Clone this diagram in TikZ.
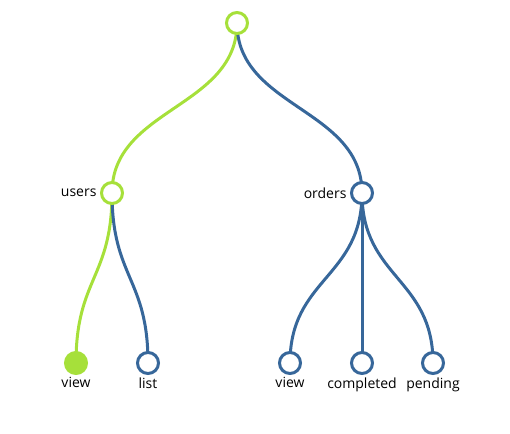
\documentclass[tikz,border=0pt]{standalone}
\usepackage{fontspec}
\setmainfont{Open Sans}
\usetikzlibrary{backgrounds}

\definecolor{leafgreen}{HTML}{A6E03A}
\definecolor{pathblue}{HTML}{37679A}

\begin{document}
\begin{tikzpicture}[
    x=1pt, y=-1pt,
    every label/.style={font=\fontsize{14}{16}\selectfont, text=black},
    dot/.style={circle, draw, line width=3pt, minimum size=21pt, inner sep=0pt, fill=white},
    greendot/.style={dot, draw=leafgreen},
    bluedot/.style={dot, draw=pathblue},
    link/.style={line width=3pt}
  ]
    \useasboundingbox (0,0) rectangle (510,433);
    \node[greendot] (root) at (237,23) {};
    \node[greendot, label={[label distance=0pt]left:users}] (users) at (112,193) {};
    \node[bluedot, label={[label distance=0pt]left:orders}] (orders) at (362,193) {};
    \node[greendot, fill=leafgreen, label={[label distance=-1pt]below:view}] (uview) at (76,363) {};
    \node[bluedot, label={[label distance=-1pt]below:list}] (ulist) at (148,363) {};
    \node[bluedot, label={[label distance=-1pt]below:view}] (oview) at (290,363) {};
    \node[bluedot, label={[label distance=-1pt]below:completed}] (odone) at (362,363) {};
    \node[bluedot, label={[label distance=-1pt]below:pending}] (opend) at (433,363) {};
    \begin{scope}[on background layer]
      \foreach \a/\b/\c in {root/users/leafgreen, root/orders/pathblue,
                            users/uview/leafgreen, users/ulist/pathblue,
                            orders/oview/pathblue, orders/odone/pathblue,
                            orders/opend/pathblue}
        \draw[link, \c] (\a.center) .. controls +(0,85) and +(0,-85) .. (\b.center);
    \end{scope}
  \end{tikzpicture}
\end{document}
